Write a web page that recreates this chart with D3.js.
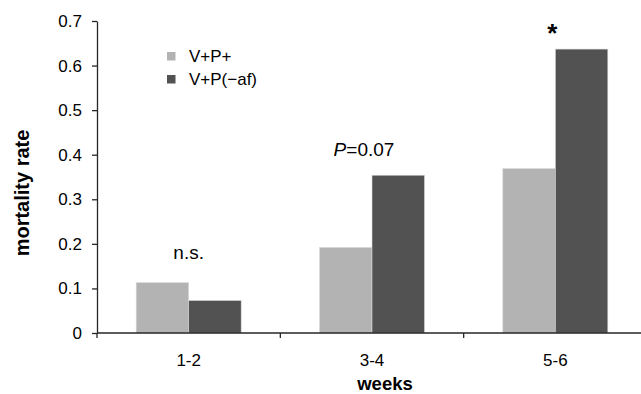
<!DOCTYPE html>
<html>
<head>
<meta charset="utf-8">
<script src="https://cdn.jsdelivr.net/npm/d3@7"></script>
<style>
  body { margin: 0; background: #fff; }
  svg { display: block; font-family: "Liberation Sans", Arial, sans-serif; }
</style>
</head>
<body>
<svg id="chart" width="641" height="394"></svg>
<script>
// chart data
var weeks = ["1-2", "3-4", "5-6"];
var groups = ["V+P+", "V+P(\u2212af)"];
var vpPlus = [0.113, 0.192, 0.369];
var vpMinusAf = [0.073, 0.354, 0.637];
var yTicks = [0, 0.1, 0.2, 0.3, 0.4, 0.5, 0.6, 0.7];
var notes = ["n.s.", "P=0.07", "*"];

var GROUP_COLORS = ["#b3b3b3", "#525252"];
var AXIS_COLOR = "#262626";
var FONT = "'Liberation Sans', Arial, sans-serif";
var PLOT = {left: 97, right: 647, top: 21, bottom: 333};

var svg = d3.select("#chart");

var x0 = d3.scaleBand()
	.domain(weeks)
	.range([PLOT.left, PLOT.right]);

var x1 = d3.scaleBand()
	.domain(groups)
	.range([0, x0.bandwidth()])
	.paddingOuter(0.746);

var y = d3.scaleLinear()
	.domain([0, 0.7])
	.range([PLOT.bottom, PLOT.top]);

var rows = weeks.map(function(w, i) {
	return {week: w, values: [vpPlus[i], vpMinusAf[i]]};
});

// bars
svg.append("g").selectAll("g")
	.data(rows)
	.enter().append("g")
	.attr("transform", function(d) { return "translate(" + x0(d.week) + ",0)"; })
	.selectAll("rect")
	.data(function(d) { return d.values.map(function(v, j) { return {group: groups[j], value: v, idx: j}; }); })
	.enter().append("rect")
	.attr("x", function(d) { return x1(d.group); })
	.attr("y", function(d) { return y(d.value); })
	.attr("width", x1.bandwidth())
	.attr("height", function(d) { return y(0) - y(d.value); })
	.attr("fill", function(d) { return GROUP_COLORS[d.idx]; })
	.attr("stroke", "#d9d9d9")
	.attr("stroke-width", 0.6);

// y axis
var yAxis = svg.append("g")
	.attr("transform", "translate(" + PLOT.left + ",0)")
	.call(d3.axisLeft(y)
		.tickValues(yTicks)
		.tickSize(5)
		.tickSizeOuter(0)
		.tickPadding(10)
		.tickFormat(function(d) { return d === 0 ? "0" : d3.format(".1f")(d); }));
yAxis.selectAll("path, line")
	.attr("stroke", AXIS_COLOR)
	.attr("stroke-width", 1.3);
yAxis.selectAll("text")
	.attr("fill", "#000")
	.style("font-family", FONT)
	.style("font-size", "17px");

// x axis line with ticks at the category boundaries
var xAxis = svg.append("g");
xAxis.append("line")
	.attr("x1", PLOT.left).attr("x2", PLOT.right)
	.attr("y1", y(0)).attr("y2", y(0))
	.attr("stroke", AXIS_COLOR).attr("stroke-width", 1.3);
var bounds = weeks.map(function(w) { return x0(w); });
xAxis.selectAll("line.tick")
	.data(bounds)
	.enter().append("line")
	.attr("class", "tick")
	.attr("x1", function(d) { return d; }).attr("x2", function(d) { return d; })
	.attr("y1", y(0)).attr("y2", y(0) + 5)
	.attr("stroke", AXIS_COLOR).attr("stroke-width", 1.3);
xAxis.selectAll("text")
	.data(weeks)
	.enter().append("text")
	.attr("x", function(d) { return x0(d) + x0.bandwidth() / 2; })
	.attr("y", 366)
	.attr("text-anchor", "middle")
	.style("font-size", "17px")
	.text(function(d) { return d; });

// axis titles
svg.append("text")
	.attr("x", 385).attr("y", 390)
	.attr("text-anchor", "middle")
	.style("font-size", "18.5px").style("font-weight", "bold")
	.text("weeks");

svg.append("text")
	.attr("transform", "translate(29,193) rotate(-90)")
	.attr("text-anchor", "middle")
	.style("font-size", "20px").style("font-weight", "bold")
	.text("mortality rate");

// significance notes above each group
var noteTop = rows.map(function(d) { return d3.max(d.values); });
svg.append("text")
	.attr("x", x0(weeks[0]) + x0.bandwidth() / 2)
	.attr("y", y(noteTop[0]) - 24)
	.attr("text-anchor", "middle")
	.style("font-size", "19px")
	.text(notes[0]);

var pNote = svg.append("text")
	.attr("x", x0(weeks[1]) + x0.bandwidth() / 2 - 8)
	.attr("y", y(noteTop[1]) - 19)
	.attr("text-anchor", "middle")
	.style("font-size", "19px");
pNote.append("tspan").style("font-style", "italic").text(notes[1].charAt(0));
pNote.append("tspan").text(notes[1].slice(1));

svg.append("text")
	.attr("x", x0(weeks[2]) + x0.bandwidth() / 2 - 3)
	.attr("y", y(noteTop[2]) - 7)
	.attr("text-anchor", "middle")
	.style("font-size", "26px").style("font-weight", "bold")
	.text(notes[2]);

// legend
var legend = svg.append("g")
	.attr("transform", "translate(167,52)")
	.selectAll("g")
	.data(groups)
	.enter().append("g")
	.attr("transform", function(d, i) { return "translate(0," + (i * 23) + ")"; });
legend.append("rect")
	.attr("width", 8.5).attr("height", 8.5)
	.attr("fill", function(d, i) { return GROUP_COLORS[i]; });
legend.append("text")
	.attr("x", 22).attr("y", 10)
	.style("font-size", "17px")
	.text(function(d) { return d; });
</script>
</body>
</html>
